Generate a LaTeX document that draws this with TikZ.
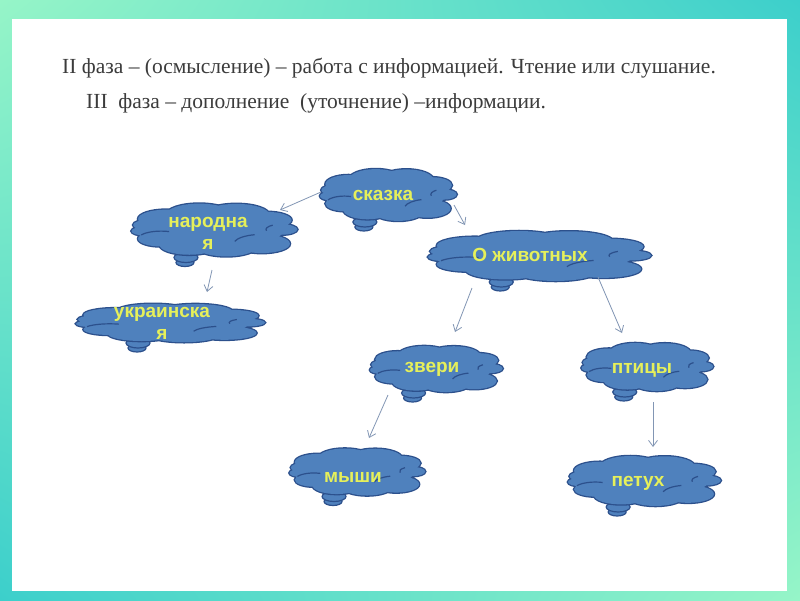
\documentclass[tikz,border=0pt]{standalone}
\usepackage{fontspec}
\setmainfont{Liberation Serif}
\newfontfamily\cloudfont{Liberation Sans}
\usetikzlibrary{arrows.meta,calc,shadings}
\definecolor{cfill}{RGB}{79,129,189}
\definecolor{cline}{RGB}{44,80,140}
\definecolor{ctext}{RGB}{230,240,90}
\definecolor{arrcol}{RGB}{130,150,180}
\definecolor{titlecol}{RGB}{60,60,60}
\definecolor{mint}{RGB}{150,245,200}
\definecolor{teal1}{RGB}{60,207,203}
\tikzset{
  cstroke/.style={draw=cline, line width=2.6pt},
  cfillonly/.style={fill=cfill},
  bubble/.style={draw=cline, fill=cfill, line width=1.2pt},
  innerarc/.style={draw=cline, line width=1.2pt},
  anchorbox/.style={inner sep=0pt, draw=none},
  cloudtext/.style={font=\cloudfont\bfseries\fontsize{19}{22}\selectfont, text=ctext, align=center, inner sep=0pt},
  arr/.style={draw=arrcol, line width=0.8pt, -{Straight Barb[length=6pt,width=9pt]}},
  title/.style={font=\fontsize{21.5}{25}\selectfont, text=titlecol, anchor=west, inner sep=0pt}
}
\newcommand\cloudbody[1]{%
  \path[#1] (0,0) ellipse [x radius=0.85, y radius=0.62]
    (-0.58,-0.40) circle [radius=0.34]
    (-0.18,-0.56) circle [radius=0.40]
    (0.27,-0.55) circle [radius=0.40]
    (0.64,-0.36) circle [radius=0.30]
    (0.82,-0.02) circle [radius=0.19]
    (0.58,0.50) circle [radius=0.34]
    (0.15,0.58) circle [radius=0.38]
    (-0.30,0.54) circle [radius=0.36]
    (-0.64,0.32) circle [radius=0.28]
    (-0.84,0.04) circle [radius=0.16]
    (-0.78,-0.18) circle [radius=0.20];
}
% name, cx, cy, w, h, tx, ty, text
\newcommand\mycloud[8]{%
  \draw[bubble] ({#2-0.17*#4-1},{#3+0.5*#5+5}) ellipse [x radius=9, y radius=4];
  \draw[bubble] ({#2-0.17*#4},{#3+0.5*#5}) ellipse [x radius=12, y radius=5];
  \begin{scope}[shift={(#2,#3)}, xscale=#4/2, yscale=#5/2]
    \cloudbody{cstroke}
    \cloudbody{cfillonly}
    \draw[innerarc] (-0.64,0.32) ++(-150:0.28) arc [start angle=-150, end angle=-70, radius=0.28];
    \draw[innerarc] (0.58,0.50) ++(-165:0.34) arc [start angle=-165, end angle=-105, radius=0.34];
    \draw[innerarc] (0.82,-0.02) ++(165:0.19) arc [start angle=165, end angle=235, radius=0.19];
  \end{scope}
  \node[anchorbox, minimum width=#4pt, minimum height=#5pt] (#1) at (#2,#3) {};
  \node[cloudtext] (#1t) at (#6,#7) {#8};
}
\begin{document}
\begin{tikzpicture}[x=1pt,y=-1pt]
\useasboundingbox (0,0) rectangle (800,600);
\shade[upper left=mint, upper right=teal1, lower left=teal1, lower right=mint] (0,0) rectangle (800,600);
\fill[white] (12,19) rectangle (787,591);

\node[title] (l1) at (62,68) {II фаза – (осмысление) – работа с информацией. Чтение или слушание.};
\node[title] (l2) at (86,103) {III\ \ фаза – дополнение\ \ (уточнение) –информации.};

\mycloud{skazka}{388}{195}{136}{54}{383}{195}{сказка}
\mycloud{narod}{214}{230}{165}{55}{208}{233}{народна\\я}
\mycloud{ukr}{170}{323}{188}{40}{162}{323}{украинска\\я}
\mycloud{ozhiv}{539}{256}{222}{52}{530}{255}{О животных}
\mycloud{zveri}{436}{369}{132}{48}{432}{369}{звери}
\mycloud{ptitsy}{647}{367}{131}{50}{642}{370}{птицы}
\mycloud{myshi}{357}{472}{135}{49}{353}{477}{мыши}
\mycloud{petukh}{644}{481}{152}{52}{638}{483}{петух}

\draw[arr] ($(skazka)+(-67,-3)$) -- ($(narod)+(66,-20)$);
\draw[arr] ($(skazka)+(66,10)$) -- ($(ozhiv)+(-74,-31)$);
\draw[arr] ($(narod)+(-2,40)$) -- ($(ukr)+(37,-31)$);
\draw[arr] ($(ozhiv)+(-67,32)$) -- ($(zveri)+(19,-37)$);
\draw[arr] ($(ozhiv)+(59,21)$) -- ($(ptitsy)+(-25,-34)$);
\draw[arr] ($(zveri)+(-48,26)$) -- ($(myshi)+(12,-34)$);
\draw[arr] ($(ptitsy)+(6,35)$) -- ($(petukh)+(9,-34)$);
\end{tikzpicture}
\end{document}
